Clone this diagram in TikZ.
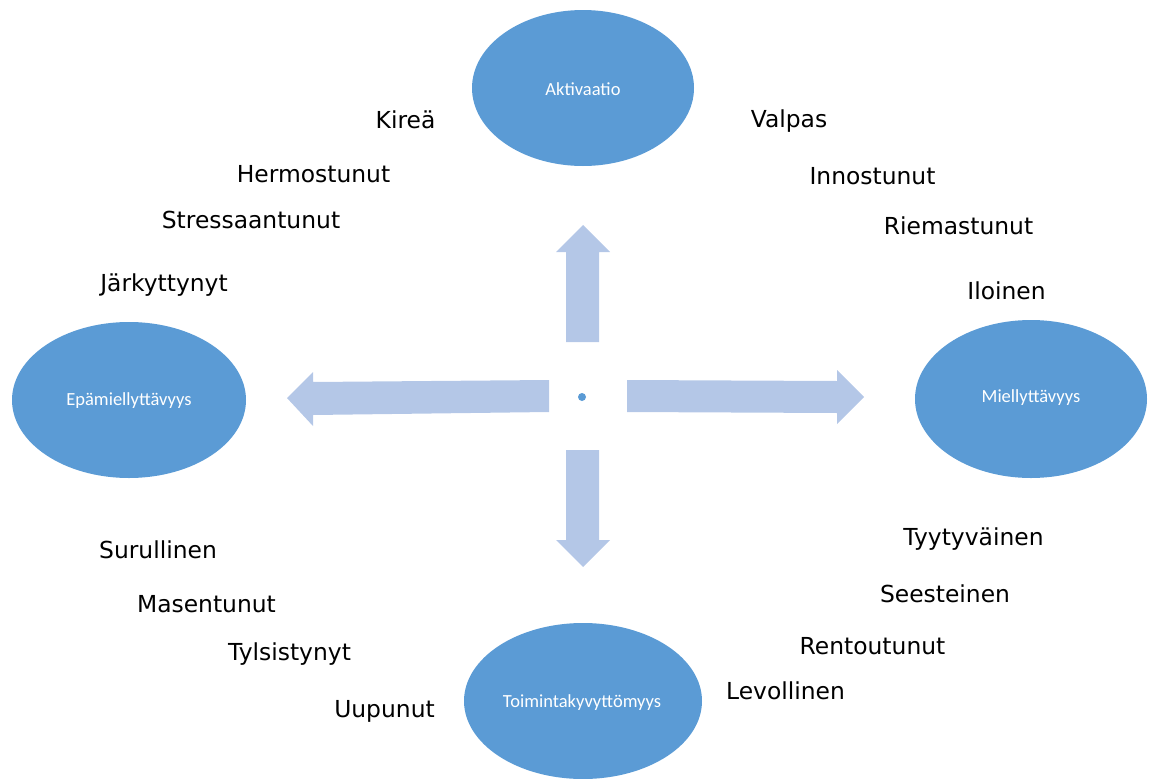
\documentclass[tikz,border=0pt]{standalone}
\usepackage{fontspec}
\setmainfont{DejaVu Sans}
\newfontfamily\calib{Carlito}
\usetikzlibrary{shapes.geometric}
\definecolor{ellblue}{HTML}{5B9BD5}
\definecolor{arrblue}{HTML}{B4C7E7}
\tikzset{
  ellnode/.style={ellipse, fill=ellblue, draw=none, inner sep=0pt},
  elllabel/.style={text=white, font=\calib\fontsize{18.5}{21}\selectfont, inner sep=0pt},
  word/.style={anchor=base, inner sep=0pt, text=black, font=\fontsize{23.4}{27}\selectfont},
  bigarrow/.style={fill=arrblue, draw=none}
}
\begin{document}
\begin{tikzpicture}[x=1pt, y=-1pt]
\useasboundingbox (0,0) rectangle (1152,779);
% ellipses
\node[ellnode, minimum width=222pt, minimum height=156pt] (akt) at (583,88) {};
\node[elllabel] (aktl) at (583,89) {Aktivaatio};
\node[ellnode, minimum width=234pt, minimum height=156pt] (epa) at (129,400) {};
\node[elllabel] (epal) at (129,401) {Epämiellyttävyys};
\node[ellnode, minimum width=232pt, minimum height=158pt] (mie) at (1031,399) {};
\node[elllabel] (miel) at (1031,398) {Miellyttävyys};
\node[ellnode, minimum width=238pt, minimum height=156pt] (toi) at (583,701) {};
\node[elllabel] (toil) at (582,703) {Toimintakyvyttömyys};
% arrows
\fill[bigarrow] (566,342) -- (566,252) -- (556,252) -- (583,225) -- (610,252) -- (599,252) -- (599,342) -- cycle;
\fill[bigarrow] (566,450) -- (566,540) -- (556,540) -- (583,567) -- (610,540) -- (599,540) -- (599,450) -- cycle;
\fill[bigarrow] (549,380) -- (313,382) -- (313,372) -- (287,398) -- (313,426) -- (313,415) -- (549,412) -- cycle;
\fill[bigarrow] (627,380) -- (837,381) -- (837,370) -- (864,397) -- (837,424) -- (837,413) -- (627,412) -- cycle;
\node[circle, fill=ellblue, inner sep=0pt, minimum size=8pt] (dot) at (582,397) {};
% words
\node[word] (w1) at (405.5,128) {Kireä};
\node[word] (w2) at (313.5,182) {Hermostunut};
\node[word] (w3) at (251,228) {Stressaantunut};
\node[word] (w4) at (164,291) {Järkyttynyt};
\node[word] (w5) at (789,127) {Valpas};
\node[word] (w6) at (872.5,184) {Innostunut};
\node[word] (w7) at (958.5,234) {Riemastunut};
\node[word] (w8) at (1006.5,299) {Iloinen};
\node[word] (w9) at (158,558) {Surullinen};
\node[word] (w10) at (206.5,612) {Masentunut};
\node[word] (w11) at (289.5,660) {Tylsistynyt};
\node[word] (w12) at (384.5,717) {Uupunut};
\node[word] (w13) at (973.5,545) {Tyytyväinen};
\node[word] (w14) at (945,602) {Seesteinen};
\node[word] (w15) at (872.5,654) {Rentoutunut};
\node[word] (w16) at (785.5,699) {Levollinen};
\end{tikzpicture}
\end{document}
